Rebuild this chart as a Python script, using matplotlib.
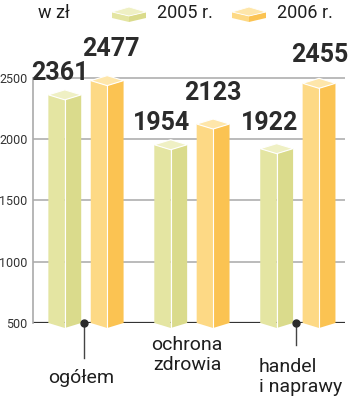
import matplotlib
matplotlib.use("Agg")
import matplotlib.pyplot as plt
from matplotlib.patches import Polygon

categories = ["ogółem", "ochrona\nzdrowia", "handel\ni naprawy"]
years = ["2005 r.", "2006 r."]
values_2005 = [2361, 1954, 1922]
values_2006 = [2477, 2123, 2455]
yticks = [500, 1000, 1500, 2000, 2500]

# face colours: (left, right, cap)
col_2005 = ("#e4e5a2", "#dadb8c", "#eff0c4")
col_2006 = ("#fdd985", "#fbc352", "#fee6aa")

plt.rcParams['font.family'] = ['Roboto', 'DejaVu Sans']
txt = "#1e1e1e"

fig = plt.figure(figsize=(3.5, 3.97), dpi=100)
ax = fig.add_axes([33 / 350, 1 - 323 / 397, 312 / 350, (323 - 40) / 397])
ax.set_xlim(-0.5, 2.445)
ybase = 500
ax.set_ylim(ybase, 500 + (323 - 40) / 0.1226)

w = 0.31
off = 0.2
cap = 5 / 0.1226  # half cap height in data units
vee = 5 / 0.1226


def prism(x, v, cols):
    l, r = x - w / 2, x + w / 2
    left = Polygon([(l, ybase), (l, v), (x, v - cap), (x, ybase - vee)],
                   closed=True, fc=cols[0], ec="none", clip_on=False, zorder=3)
    right = Polygon([(x, ybase - vee), (x, v - cap), (r, v), (r, ybase)],
                    closed=True, fc=cols[1], ec="none", clip_on=False, zorder=3)
    top = Polygon([(l, v), (x, v + cap), (r, v), (x, v - cap)],
                  closed=True, fc=cols[2], ec="white", lw=0.8, clip_on=False, zorder=4)
    for p in (left, right, top):
        ax.add_patch(p)
    ax.plot([x, x], [ybase - vee, v - cap], color="white", lw=0.8, zorder=4, clip_on=False)


label_dx = [(-5, 4), (-9, 0), (-7, 1)]
label_dy = [(10, 20), (10, 19), (14, 16)]
for i in range(len(categories)):
    for j, (vals, cols) in enumerate([(values_2005, col_2005), (values_2006, col_2006)]):
        x = i + (j - 0.5) * 2 * off
        prism(x, vals[i], cols)
        ax.annotate(str(vals[i]), (x, vals[i]), xytext=(label_dx[i][j], label_dy[i][j]),
                    textcoords="offset pixels", ha="center", va="bottom",
                    fontsize=18, fontweight="bold", color="#2b2b2b", zorder=6,
                    annotation_clip=False)

# gridlines and axis
for t in yticks[1:]:
    ax.axhline(t, color="#b5b5b5", lw=1.3, zorder=1)
ax.axhline(ybase, color="#333333", lw=1.6, zorder=2)
ax.set_yticks(yticks)
ax.set_yticklabels([str(t) for t in yticks], fontsize=9, color="#333333")
ax.tick_params(axis="y", length=0, pad=4)
ax.set_xticks([])
for s in ("top", "right", "bottom"):
    ax.spines[s].set_visible(False)
ax.spines["left"].set_color("#aaaaaa")
ax.spines["left"].set_linewidth(1.2)
ax.spines["left"].set_bounds(500, 2500)

# category pointers and labels
ax.plot([-0.015, -0.015], [ybase, ybase - 35 / 0.1226], color="#444444", lw=1, clip_on=False, zorder=5)
ax.plot([-0.015], [ybase], "o", color="#2b2b2b", ms=5, clip_on=False, zorder=6)
ax.plot([1.985, 1.985], [ybase, ybase - 22 / 0.1226], color="#444444", lw=1, clip_on=False, zorder=5)
ax.plot([1.985], [ybase], "o", color="#2b2b2b", ms=5, clip_on=False, zorder=6)

ax.annotate(categories[0], (0, ybase), xytext=(-5, -55), textcoords="offset pixels",
            ha="center", va="center", fontsize=14, color=txt, annotation_clip=False)
ax.annotate(categories[1], (1, ybase), xytext=(-5, -32), textcoords="offset pixels",
            ha="center", va="center", fontsize=14, color=txt,
            linespacing=1.15, annotation_clip=False)
ax.annotate(categories[2], (2, ybase), xytext=(-39, -54), textcoords="offset pixels",
            ha="left", va="center", fontsize=14, color=txt,
            linespacing=1.15, annotation_clip=False)

# legend overlay in pixel coords
lg = fig.add_axes([0, 0, 1, 1], zorder=10)
lg.set_xlim(0, 350)
lg.set_ylim(397, 0)
lg.axis("off")
lg.patch.set_alpha(0)
lg.text(54, 13, "w zł", ha="center", va="center", fontsize=13, color=txt)


def icon(x0, cols):
    x1, xm = x0 + 34, x0 + 17
    lg.add_patch(Polygon([(x0, 12), (xm, 16), (xm, 22), (x0, 18)], fc=cols[0], ec="none"))
    lg.add_patch(Polygon([(xm, 16), (x1, 12), (x1, 18), (xm, 22)], fc=cols[1], ec="none"))
    lg.add_patch(Polygon([(x0, 12), (xm, 7), (x1, 12), (xm, 16)], fc=cols[2], ec="white", lw=0.6))


icon(112, col_2005)
lg.text(157, 13, years[0], ha="left", va="center", fontsize=13, color=txt)
icon(232, col_2006)
lg.text(277, 13, years[1], ha="left", va="center", fontsize=13, color=txt)

fig.savefig("out.png", dpi=100)
